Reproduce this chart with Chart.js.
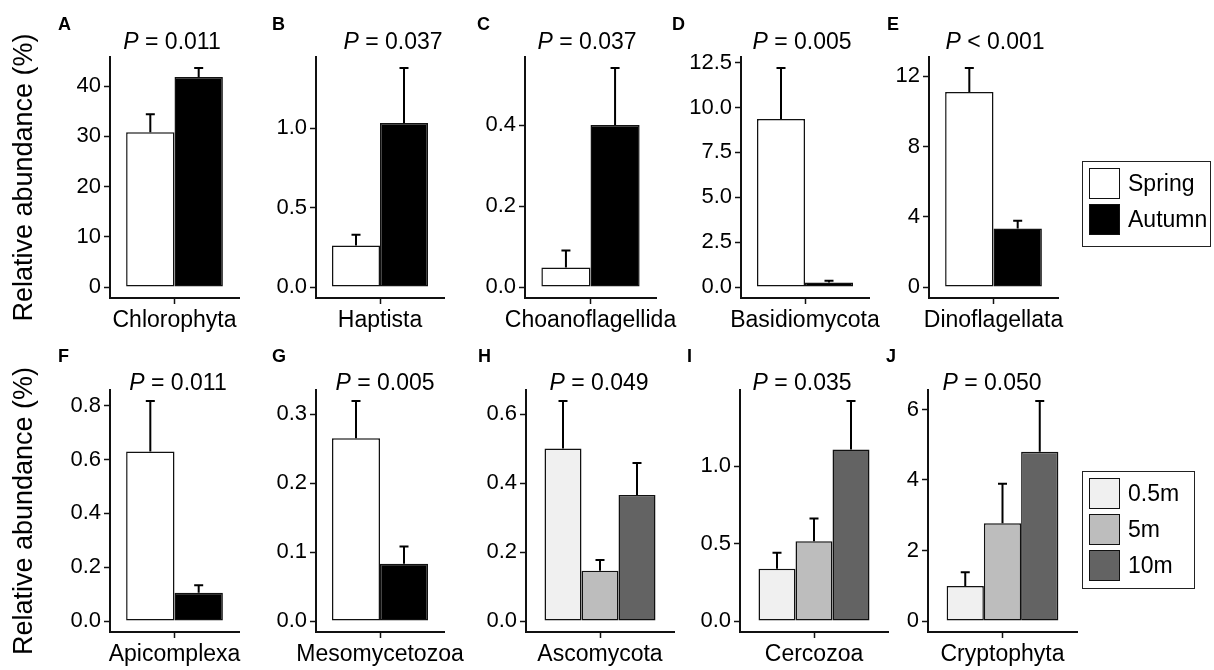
<!DOCTYPE html>
<html>
<head>
<meta charset="utf-8">
<script src="https://cdn.jsdelivr.net/npm/chart.js@4"></script>
<style>
  html, body { margin: 0; padding: 0; background: #fff; overflow: hidden; }
  body { width: 1214px; height: 670px; position: relative; font-family: "Liberation Sans", Arial, sans-serif; color: #000; }
  canvas { position: absolute; }
  .tag { position: absolute; font-weight: bold; font-size: 18px; line-height: 18px; }
  .pval { position: absolute; font-size: 23px; line-height: 23px; white-space: nowrap; transform: translateX(-50%); }
  .legend { position: absolute; border: 1.5px solid #222; box-sizing: border-box; padding: 6px 0 0 6px; }
  .legend .row { display: flex; align-items: center; height: 31px; margin-bottom: 5px; font-size: 23px; }
  .legend .key { width: 31px; height: 31px; box-sizing: border-box; border: 1.5px solid #111; margin-right: 8px; }
</style>
</head>
<body>
<script>
// season comparison (panels A-G)
const seasonTaxa = ['Chlorophyta', 'Haptista', 'Choanoflagellida', 'Basidiomycota', 'Dinoflagellata', 'Apicomplexa', 'Mesomycetozoa'];
const springMean = [30.8, 0.262, 0.048, 9.36, 11.1, 0.63, 0.265];
const springSE   = [3.6, 0.067, 0.042, 2.84, 1.37, 0.188, 0.054];
const autumnMean = [41.8, 1.034, 0.40, 0.25, 3.33, 0.105, 0.083];
const autumnSE   = [1.8, 0.347, 0.141, 0.10, 0.45, 0.028, 0.025];

// depth comparison (panels H-J)
const depthTaxa  = ['Ascomycota', 'Cercozoa', 'Cryptophyta'];
const depth05Mean = [0.501, 0.338, 0.99];
const depth05SE   = [0.138, 0.103, 0.39];
const depth5Mean  = [0.146, 0.515, 2.77];
const depth5SE    = [0.031, 0.146, 1.12];
const depth10Mean = [0.366, 1.107, 4.80];
const depth10SE   = [0.093, 0.313, 1.44];

const seasonNames = ['Spring', 'Autumn'];
const depthNames  = ['0.5m', '5m', '10m'];

// y tick labels, one list per panel A-J
const yTickLabels = [
  ['0', '10', '20', '30', '40'],
  ['0.0', '0.5', '1.0'],
  ['0.0', '0.2', '0.4'],
  ['0.0', '2.5', '5.0', '7.5', '10.0', '12.5'],
  ['0', '4', '8', '12'],
  ['0.0', '0.2', '0.4', '0.6', '0.8'],
  ['0.0', '0.1', '0.2', '0.3'],
  ['0.0', '0.2', '0.4', '0.6'],
  ['0.0', '0.5', '1.0'],
  ['0', '2', '4', '6']
];
const pLabels = ['= 0.011', '= 0.037', '= 0.037', '= 0.005', '< 0.001', '= 0.011', '= 0.005', '= 0.049', '= 0.035', '= 0.050'];

const seasonColors = ['#ffffff', '#000000'];
const depthColors  = ['#f0f0f0', '#bdbdbd', '#636363'];

// panel frames: axis left/right in page pixels
const rowsGeo = [
  { top: 57, bottom: 298, canvasTop: 0, tagTop: 15, pTop: 30 },
  { top: 390, bottom: 632, canvasTop: 335, tagTop: 347, pTop: 371 }
];
const panels = [
  { tag: 'A', row: 0, left: 110, right: 239, tagX: 58, pX: 172 },
  { tag: 'B', row: 0, left: 316, right: 444, tagX: 272, pX: 393 },
  { tag: 'C', row: 0, left: 525, right: 656, tagX: 477, pX: 587 },
  { tag: 'D', row: 0, left: 741, right: 869, tagX: 672, pX: 802 },
  { tag: 'E', row: 0, left: 929, right: 1058, tagX: 887, pX: 995 },
  { tag: 'F', row: 1, left: 110, right: 239, tagX: 58, pX: 178 },
  { tag: 'G', row: 1, left: 316, right: 444, tagX: 272, pX: 385 },
  { tag: 'H', row: 1, left: 526, right: 674, tagX: 478, pX: 599 },
  { tag: 'I', row: 1, left: 740, right: 888, tagX: 687, pX: 802 },
  { tag: 'J', row: 1, left: 928, right: 1077, tagX: 886, pX: 992 }
];

const FONT = '"Liberation Sans", Arial, sans-serif';
const INK = '#111';

// upward-only error bars from the bar top
const errorBars = {
  id: 'errorBars',
  afterDatasetsDraw(chart) {
    const { ctx, scales: { y } } = chart;
    ctx.save();
    ctx.strokeStyle = '#000';
    ctx.lineWidth = 2;
    chart.data.datasets.forEach((ds, i) => {
      chart.getDatasetMeta(i).data.forEach((bar, j) => {
        const top = y.getPixelForValue(ds.data[j] + ds.errors[j]);
        ctx.beginPath();
        ctx.moveTo(bar.x, bar.y);
        ctx.lineTo(bar.x, top);
        ctx.moveTo(bar.x - 4.5, top);
        ctx.lineTo(bar.x + 4.5, top);
        ctx.stroke();
      });
    });
    ctx.restore();
  }
};

function panelData(idx) {
  if (idx < 7) {
    return {
      taxon: seasonTaxa[idx],
      sets: [
        { label: seasonNames[0], data: [springMean[idx]], errors: [springSE[idx]], backgroundColor: seasonColors[0] },
        { label: seasonNames[1], data: [autumnMean[idx]], errors: [autumnSE[idx]], backgroundColor: seasonColors[1] }
      ]
    };
  }
  const k = idx - 7;
  return {
    taxon: depthTaxa[k],
    sets: [
      { label: depthNames[0], data: [depth05Mean[k]], errors: [depth05SE[k]], backgroundColor: depthColors[0] },
      { label: depthNames[1], data: [depth5Mean[k]], errors: [depth5SE[k]], backgroundColor: depthColors[1] },
      { label: depthNames[2], data: [depth10Mean[k]], errors: [depth10SE[k]], backgroundColor: depthColors[2] }
    ]
  };
}

panels.forEach((p, idx) => {
  const geo = rowsGeo[p.row];
  const firstCol = p.left < 200;
  const yAxisW = firstCol ? p.left : 80;
  const xAxisH = 45;
  const padRight = 50;
  const cLeft = p.left - yAxisW;
  const cWidth = p.right - cLeft + padRight;
  const cHeight = geo.bottom + xAxisH - geo.canvasTop;

  const canvas = document.createElement('canvas');
  canvas.width = cWidth;
  canvas.height = cHeight;
  canvas.style.left = cLeft + 'px';
  canvas.style.top = geo.canvasTop + 'px';
  canvas.style.width = cWidth + 'px';
  canvas.style.height = cHeight + 'px';
  document.body.appendChild(canvas);

  const { taxon, sets } = panelData(idx);
  sets.forEach(s => {
    s.borderColor = INK;
    s.borderWidth = 1.5;
    s.borderSkipped = false;
    s.categoryPercentage = 0.75;
    s.barPercentage = 1;
  });

  // ggplot-style 5% padding around [0, highest error bar]
  const peak = Math.max(...sets.map(s => s.data[0] + s.errors[0]));
  const tickLabels = yTickLabels[idx];

  new Chart(canvas, {
    type: 'bar',
    data: { labels: [taxon], datasets: sets },
    options: {
      responsive: false,
      devicePixelRatio: 1,
      animation: false,
      layout: { padding: { top: geo.top - geo.canvasTop, right: padRight, left: 0, bottom: 0 } },
      plugins: { legend: { display: false }, tooltip: { enabled: false } },
      scales: {
        x: {
          offset: true,
          grid: { offset: false, drawOnChartArea: false, tickLength: 6, tickWidth: 1.5, tickColor: INK },
          border: { display: true, color: INK, width: 2 },
          ticks: { color: '#000', font: { family: FONT, size: 23 }, padding: 3, maxRotation: 0, autoSkip: false },
          afterFit: s => { s.height = xAxisH; }
        },
        y: {
          min: -0.05 * peak,
          max: 1.05 * peak,
          grid: { drawOnChartArea: false, tickLength: 6, tickWidth: 1.5, tickColor: INK },
          border: { display: true, color: INK, width: 2 },
          ticks: {
            color: '#000',
            font: { family: FONT, size: 22 },
            padding: 3,
            callback: (v, i) => tickLabels[i]
          },
          title: {
            display: firstCol,
            text: 'Relative abundance (%)',
            color: '#000',
            font: { family: FONT, size: 27 },
            padding: { top: 8, bottom: 0 }
          },
          afterBuildTicks: s => { s.ticks = tickLabels.map(t => ({ value: parseFloat(t) })); },
          afterFit: s => { s.width = yAxisW; }
        }
      }
    },
    plugins: [errorBars]
  });

  const tag = document.createElement('div');
  tag.className = 'tag';
  tag.textContent = p.tag;
  tag.style.left = p.tagX + 'px';
  tag.style.top = geo.tagTop + 'px';
  document.body.appendChild(tag);

  const pv = document.createElement('div');
  pv.className = 'pval';
  pv.innerHTML = '<i>P</i> ' + pLabels[idx];
  pv.style.left = p.pX + 'px';
  pv.style.top = geo.pTop + 'px';
  document.body.appendChild(pv);
});

function addLegend(names, colors, left, top, width, height) {
  const box = document.createElement('div');
  box.className = 'legend';
  Object.assign(box.style, { left: left + 'px', top: top + 'px', width: width + 'px', height: height + 'px' });
  names.forEach((n, i) => {
    const row = document.createElement('div');
    row.className = 'row';
    const key = document.createElement('div');
    key.className = 'key';
    key.style.background = colors[i];
    const label = document.createElement('span');
    label.textContent = n;
    row.appendChild(key);
    row.appendChild(label);
    box.appendChild(row);
  });
  document.body.appendChild(box);
}
addLegend(seasonNames, seasonColors, 1082, 161, 129, 86);
addLegend(depthNames, depthColors, 1082, 471, 113, 118);
</script>
</body>
</html>
